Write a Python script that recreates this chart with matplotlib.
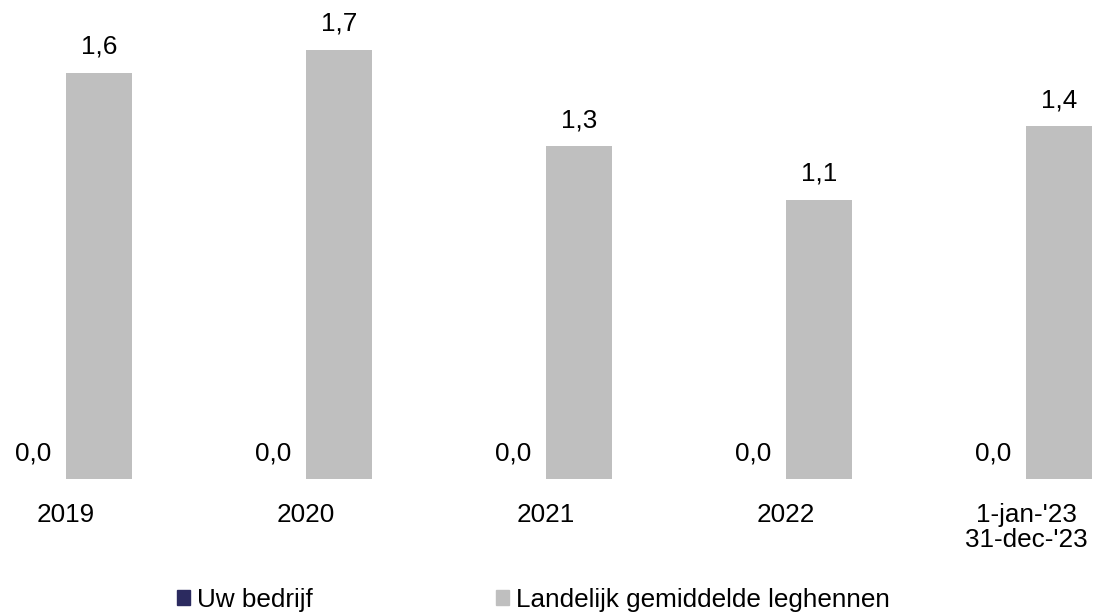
import matplotlib
matplotlib.use("Agg")
import matplotlib.pyplot as plt
from matplotlib.patches import Patch
import numpy as np

plt.rcParams['font.family'] = ['Liberation Sans', 'DejaVu Sans']

categories = ["2019", "2020", "2021", "2022", "1-jan-'23\n31-dec-'23"]
uw_bedrijf = [0.0, 0.0, 0.0, 0.0, 0.0]
landelijk = [1.6, 1.69, 1.31, 1.1, 1.39]
series_names = ["Uw bedrijf", "Landelijk gemiddelde leghennen"]
colors = ["#2b2a5f", "#bfbfbf"]

W, H = 1094, 616
fig = plt.figure(figsize=(W / 100, H / 100), dpi=100)
base_px = 479
ax = fig.add_axes([0, (H - base_px) / H, 1, base_px / H])

fs = 18.8
x = np.arange(len(categories))
bw = 0.275
b1 = ax.bar(x - bw / 2, uw_bedrijf, bw, color=colors[0])
b2 = ax.bar(x + bw / 2, landelijk, bw, color=colors[1])

for bars, vals in ((b1, uw_bedrijf), (b2, landelijk)):
    for r, v in zip(bars, vals):
        ax.annotate(f"{v:.1f}".replace(".", ","), (r.get_x() + r.get_width() / 2, v),
                    xytext=(0, 10), textcoords="offset points", ha="center", va="bottom",
                    fontsize=fs, color="black")

ax.set_xlim(-66 / 240, (W - 66) / 240)
ax.set_ylim(0, base_px / 254)
ax.set_xticks(x)
ax.set_xticklabels(categories, fontsize=fs, linespacing=1.05)
ax.tick_params(axis="x", length=0, pad=17)
ax.set_yticks([])
for s in ax.spines.values():
    s.set_visible(False)

handles = [Patch(color=c) for c in colors]
fig.legend(handles, series_names, loc="center left", bbox_to_anchor=(177 / W, 1 - 600 / H),
           ncol=2, frameon=False, fontsize=fs, handlelength=0.5, handleheight=0.5,
           handletextpad=0.25, columnspacing=7.05, borderpad=0, borderaxespad=0)

fig.savefig("out.png", dpi=100)
